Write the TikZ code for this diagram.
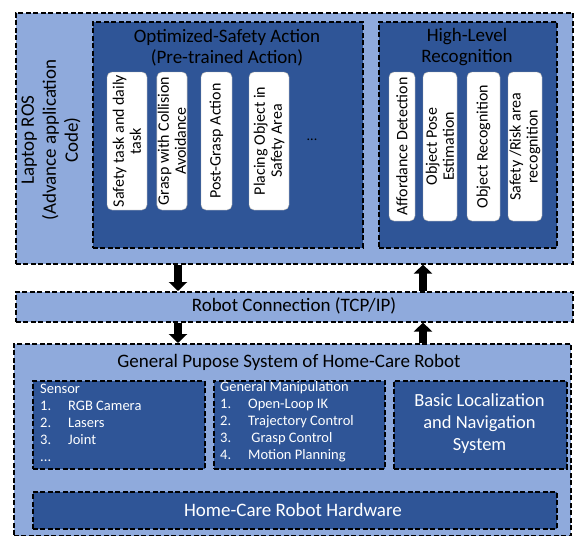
\documentclass[tikz,border=0pt]{standalone}
\usepackage{fontspec}
\setmainfont{Carlito}
\usetikzlibrary{arrows.meta}

\definecolor{lightblu}{HTML}{8FAADC}
\definecolor{darkblu}{HTML}{2F5597}

\tikzset{
  dbox/.style={rectangle,draw=black,line width=1.6pt,dash pattern=on 5pt off 2.5pt,
    anchor=north west,inner sep=0pt},
  outerbox/.style={dbox,fill=lightblu},
  innerbox/.style={dbox,fill=darkblu},
  card/.style={rectangle,rounded corners=5pt,draw=gray!70,fill=white,rotate=90,
    align=center,inner sep=1pt,font=\fontsize{16}{17}\selectfont},
  fatarrow/.style={line width=8pt,-{Triangle[length=9pt,width=18pt]}},
  title/.style={align=center,font=\fontsize{19}{21}\selectfont},
  itemlist/.style={anchor=north west,inner sep=0pt,align=left,text=white,
    font=\fontsize{14.5}{17}\selectfont}
}

\begin{document}
\begin{tikzpicture}[x=1pt,y=-1pt]
  \useasboundingbox (0,0) rectangle (574,536);

  % laptop side
  \node (laptop) at (15,12) [outerbox,minimum width=557pt,minimum height=251pt]{};
  \node (lapname) at (51,140) [title,rotate=90,font=\fontsize{19}{22}\selectfont]{Laptop ROS\\(Advance application\\Code)};

  \node (osa) at (92,21) [innerbox,minimum width=270pt,minimum height=226pt]{};
  \node (osaname) at (227,47.5) [title]{Optimized-Safety Action\\(Pre-trained Action)};
  \node (a1) at (127,141) [card,minimum width=138pt,minimum height=40pt]{Safety task and daily\\task};
  \node (a2) at (172,141) [card,minimum width=138pt,minimum height=30pt]{Grasp with Collision\\Avoidance};
  \node (a3) at (216.5,141) [card,minimum width=138pt,minimum height=31pt]{Post-Grasp Action};
  \node (a4) at (269,141) [card,minimum width=138pt,minimum height=40pt]{Placing Object in\\Safety Area};
  \node (adots) at (312,140) [font=\fontsize{14}{16}\selectfont]{...};

  \node (hlr) at (378,21) [innerbox,minimum width=178pt,minimum height=226pt]{};
  \node (hlrname) at (467,47.5) [title]{High-Level\\Recognition};
  \node (r1) at (402,146.5) [card,minimum width=149pt,minimum height=26pt]{Affordance Detection};
  \node (r2) at (440,146.5) [card,minimum width=149pt,minimum height=34pt]{Object Pose\\Estimation};
  \node (r3) at (483.5,146.5) [card,minimum width=149pt,minimum height=33pt]{Object Recognition};
  \node (r4) at (525,146.5) [card,minimum width=149pt,minimum height=34pt]{Safety /Risk area\\recognition};

  % connection
  \node (conn) at (15,291) [outerbox,minimum width=557pt,minimum height=30pt]{};
  \node (connname) at (294,306) [title]{Robot Connection (TCP/IP)};

  % robot side
  \node (gps) at (13,343) [outerbox,minimum width=557pt,minimum height=192pt]{};
  \node (gpsname) at (289,362) [title]{General Pupose System of Home-Care Robot};

  \node (sensor) at (32,380) [innerbox,minimum width=172pt,minimum height=88pt]{};
  \node (sensorlist) at (40,384) [itemlist]{Sensor\\
    \makebox[28pt][l]{1.}RGB Camera\\
    \makebox[28pt][l]{2.}Lasers\\
    \makebox[28pt][l]{3.}Joint\\
    ...};

  \node (manip) at (213,380) [innerbox,minimum width=171pt,minimum height=88pt]{};
  \node (maniplist) at (220,381) [itemlist]{General Manipulation\\
    \makebox[28pt][l]{1.}Open-Loop IK\\
    \makebox[28pt][l]{2.}Trajectory Control\\
    \makebox[28pt][l]{3.}\ Grasp Control\\
    \makebox[28pt][l]{4.}Motion Planning};

  \node (nav) at (393,380) [innerbox,minimum width=173pt,minimum height=88pt]{};
  \node (navname) at (479.5,424) [title,text=white,font=\fontsize{18.5}{22}\selectfont]{Basic Localization\\and Navigation\\System};

  \node (hw) at (32,491) [innerbox,minimum width=524pt,minimum height=37pt]{};
  \node (hwname) at (293,510) [title,text=white]{Home-Care Robot Hardware};

  % arrows
  \coordinate (dn) at (178,0);
  \coordinate (up) at (423,0);
  \draw[fatarrow] (laptop.south -| dn) -- (conn.north -| dn);
  \draw[fatarrow] (conn.north -| up) -- (laptop.south -| up);
  \draw[fatarrow] (conn.south -| dn) -- (gps.north -| dn);
  \draw[fatarrow] (gps.north -| up) -- (conn.south -| up);
\end{tikzpicture}
\end{document}
